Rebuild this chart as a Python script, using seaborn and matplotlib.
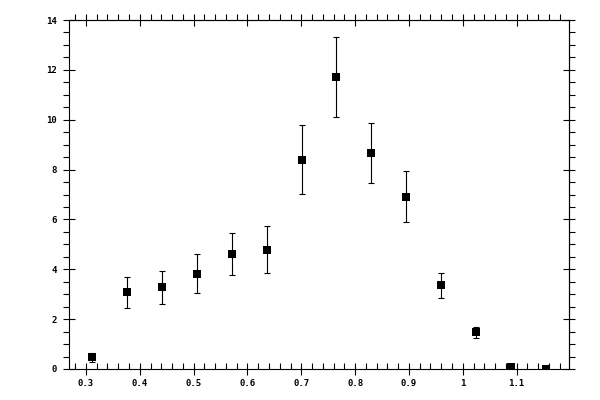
import numpy as np
import matplotlib
matplotlib.use("Agg")
import matplotlib.pyplot as plt
import seaborn as sns
from matplotlib.ticker import MultipleLocator, FuncFormatter

# values
x_vals = [0.3115, 0.3764, 0.4414, 0.5063, 0.5713, 0.6362, 0.7011,
          0.7650, 0.8295, 0.8945, 0.9590, 1.0240, 1.0890, 1.1540]
y_vals = [0.48, 3.07, 3.27, 3.83, 4.63, 4.79, 8.39,
          11.71, 8.67, 6.91, 3.35, 1.47, 0.07, 0.00]
y_err = [0.18, 0.62, 0.68, 0.77, 0.84, 0.93, 1.38,
         1.60, 1.20, 1.02, 0.52, 0.22, 0.0, 0.0]

x_ticks = [0.3, 0.4, 0.5, 0.6, 0.7, 0.8, 0.9, 1.0, 1.1]
y_ticks = [0, 2, 4, 6, 8, 10, 12, 14]

sns.set_style("white")
plt.rcParams['font.family'] = ['DejaVu Sans Mono', 'DejaVu Sans']
plt.rcParams['text.color'] = 'black'
plt.rcParams['xtick.color'] = 'black'
plt.rcParams['ytick.color'] = 'black'
plt.rcParams['xtick.labelcolor'] = 'black'
plt.rcParams['ytick.labelcolor'] = 'black'

fig = plt.figure(figsize=(6, 4), dpi=100)
ax = fig.add_axes([0.115, 0.0775, 0.833, 0.8725])

ax.errorbar(x_vals, y_vals, yerr=y_err, fmt='none', ecolor='black',
            elinewidth=0.8, capsize=2.0, capthick=0.8)
sns.scatterplot(x=x_vals, y=y_vals, marker='s', s=34, color='black',
                edgecolor='black', linewidth=0, ax=ax, zorder=3)

ax.set_xlim(0.2685, 1.197)
ax.set_ylim(0, 14)
for s in ax.spines.values():
    s.set_linewidth(0.8)
    s.set_color('black')

fmt = FuncFormatter(lambda v, p: f"{v:g}")
ax.xaxis.set_major_locator(MultipleLocator(0.1))
ax.xaxis.set_minor_locator(MultipleLocator(0.02))
ax.xaxis.set_major_formatter(fmt)
ax.yaxis.set_major_locator(MultipleLocator(2))
ax.yaxis.set_minor_locator(MultipleLocator(0.5))
ax.yaxis.set_major_formatter(fmt)

ax.tick_params(axis='x', which='major', direction='inout', length=8, width=0.8,
               labelsize=6.5, pad=3, bottom=True, top=False)
ax.tick_params(axis='x', which='minor', direction='in', length=4, width=0.8,
               bottom=True, top=False)
ax.tick_params(axis='y', which='major', direction='inout', length=8, width=0.8,
               labelsize=6.5, pad=5, left=True, right=False)
ax.tick_params(axis='y', which='minor', direction='out', length=4, width=0.8,
               left=True, right=False)
for lbl in ax.get_xticklabels() + ax.get_yticklabels():
    lbl.set_fontweight('bold')

# top and right ticks
top = ax.secondary_xaxis('top')
top.xaxis.set_major_locator(MultipleLocator(0.1))
top.xaxis.set_minor_locator(MultipleLocator(0.02))
top.tick_params(which='major', direction='inout', length=8, width=0.8, labeltop=False)
top.tick_params(which='minor', direction='out', length=4, width=0.8)
top.spines['top'].set_linewidth(0.8)

right = ax.secondary_yaxis('right')
right.yaxis.set_major_locator(MultipleLocator(2))
right.yaxis.set_minor_locator(MultipleLocator(0.5))
right.tick_params(which='major', direction='inout', length=8, width=0.8, labelright=False)
right.tick_params(which='minor', direction='out', length=4, width=0.8)
right.spines['right'].set_linewidth(0.8)

fig.savefig("out.png", dpi=100)
